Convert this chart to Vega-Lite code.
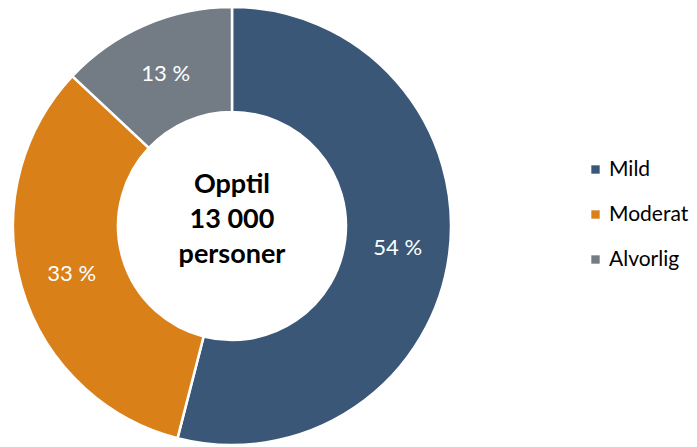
{
  "$schema": "https://vega.github.io/schema/vega-lite/v6.json",
  "width": 440,
  "height": 436,
  "padding": {"left": 12, "top": 8, "right": 245, "bottom": 3},
  "autosize": {"type": "none"},
  "background": "white",
  "config": {"view": {"stroke": null}, "font": "Lato"},
  "data": {
    "values": [
      {"kategori": "Mild", "andel": 54, "rekkefolge": 1, "etikett": "54 %"},
      {"kategori": "Moderat", "andel": 33, "rekkefolge": 2, "etikett": "33 %"},
      {"kategori": "Alvorlig", "andel": 13, "rekkefolge": 3, "etikett": "13 %"}
    ]
  },
  "layer": [
    {
      "mark": {"type": "arc", "innerRadius": 114, "outerRadius": 219, "stroke": "white", "strokeWidth": 2.5},
      "encoding": {
        "theta": {"field": "andel", "type": "quantitative", "stack": true},
        "order": {"field": "rekkefolge", "type": "quantitative"},
        "color": {
          "field": "kategori",
          "type": "nominal",
          "sort": ["Mild", "Moderat", "Alvorlig"],
          "scale": {"domain": ["Mild", "Moderat", "Alvorlig"], "range": ["#3B5777", "#D98019", "#737C85"]},
          "legend": {
            "title": null,
            "orient": "none",
            "legendX": 573,
            "legendY": 151,
            "symbolType": "square",
            "symbolSize": 70,
            "symbolStrokeWidth": 0,
            "labelFontSize": 21,
            "labelColor": "#000000",
            "labelFont": "Lato",
            "rowPadding": 23,
            "labelOffset": 3
          }
        }
      }
    },
    {
      "mark": {"type": "text", "radius": 167, "color": "white", "fontSize": 22, "font": "Lato", "dy": 1},
      "encoding": {
        "theta": {"field": "andel", "type": "quantitative", "stack": true},
        "order": {"field": "rekkefolge", "type": "quantitative"},
        "text": {"field": "etikett", "type": "nominal"}
      }
    },
    {
      "data": {"values": [{"tekst": "Opptil\n13 000\npersoner"}]},
      "mark": {"type": "text", "lineBreak": "\n", "fontSize": 27, "fontWeight": "bold", "color": "#000000", "font": "Lato", "lineHeight": 35, "baseline": "middle", "dy": -41},
      "encoding": {"text": {"field": "tekst", "type": "nominal"}}
    }
  ]
}
